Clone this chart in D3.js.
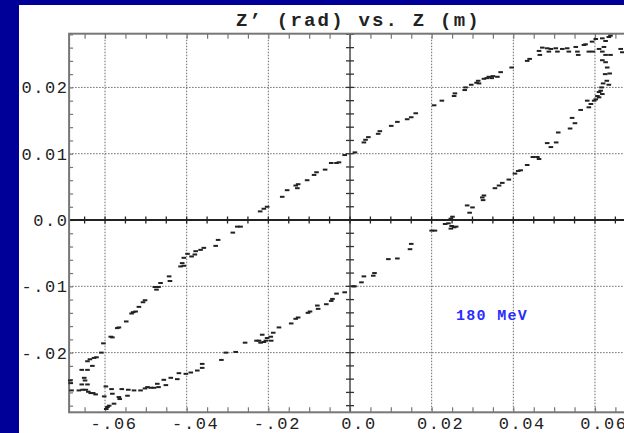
<!DOCTYPE html>
<html>
<head>
<meta charset="utf-8">
<script src="https://cdn.jsdelivr.net/npm/d3@7"></script>
<style>
  html, body { margin: 0; padding: 0; background: #000099; }
  svg { display: block; }
</style>
</head>
<body>
<svg id="chart" width="624" height="433"></svg>
<script>
// ---------- data ----------
const titleText = "Z’ (rad) vs. Z (m)";
const annotation = "180 MeV";
const xTicks = [-0.06, -0.04, -0.02, 0, 0.02, 0.04, 0.06];
const xTickLabels = ["-.06", "-.04", "-.02", "0.0", "0.02", "0.04", "0.06"];
const yTicks = [-0.02, -0.01, 0, 0.01, 0.02];
const yTickLabels = ["-.02", "-.01", "0.0", "0.01", "0.02"];

// upper branch: Z (m), Z' (rad)
const upperBranch = [
  [-0.0220,0.0013],[-0.0211,0.0017],[-0.0203,0.0020],[-0.0166,0.0035],[-0.0154,0.0045],
  [-0.0133,0.0052],[-0.0129,0.0048],[-0.0127,0.0054],[-0.0105,0.0060],[-0.0088,0.0068],
  [-0.0082,0.0072],[-0.0061,0.0076],[-0.0046,0.0086],[-0.0033,0.0086],[-0.0027,0.0087],
  [-0.0013,0.0098],[0.0012,0.0102],[0.0034,0.0117],[0.0038,0.0121],[0.0045,0.0125],
  [0.0069,0.0130],[0.0073,0.0134],[0.0101,0.0142],[0.0116,0.0148],[0.0140,0.0152],
  [0.0150,0.0155],[0.0161,0.0161],[0.0206,0.0173],[0.0225,0.0180],[0.0255,0.0187],
  [0.0257,0.0191],[0.0281,0.0196],[0.0283,0.0200],[0.0297,0.0204],[0.0310,0.0207],
  [0.0314,0.0210],[0.0316,0.0206],[0.0328,0.0213],[0.0335,0.0214],[0.0340,0.0216],
  [0.0347,0.0214],[0.0350,0.0217],[0.0361,0.0216],[0.0369,0.0223],[0.0396,0.0230],
  [0.0434,0.0240],[0.0440,0.0243],
  [-0.0276,-0.0010],[-0.0268,-0.0010],[-0.0287,-0.0019],[-0.0323,-0.0030],[-0.0329,-0.0039],
  [-0.0358,-0.0042],[-0.0366,-0.0045],[-0.0378,-0.0047],[-0.0380,-0.0052],[-0.0388,-0.0055],
  [-0.0398,-0.0051],[-0.0407,-0.0057],[-0.0411,-0.0065],[-0.0415,-0.0070],[-0.0407,-0.0069],
  [-0.0443,-0.0085],[-0.0441,-0.0092],[-0.0464,-0.0095],[-0.0469,-0.0101],[-0.0478,-0.0101],
  [-0.0474,-0.0105],[-0.0502,-0.0121],[-0.0507,-0.0124],[-0.0517,-0.0131],[-0.0525,-0.0138],
  [-0.0531,-0.0139],[-0.0535,-0.0141],[-0.0548,-0.0153],[-0.0566,-0.0162],[-0.0570,-0.0163],
  [-0.0582,-0.0177],[-0.0586,-0.0176],[-0.0604,-0.0186],[-0.0609,-0.0200],[-0.0621,-0.0207],
  [-0.0627,-0.0208],[-0.0637,-0.0210],[-0.0643,-0.0213],[-0.0631,-0.0220],[-0.0643,-0.0226],
  [-0.0657,-0.0226],[-0.0651,-0.0238],[-0.0649,-0.0242],[-0.0657,-0.0248],[-0.0643,-0.0248]
];

// top turning cluster
const topCluster = [
  [0.0463,0.0255],[0.0465,0.0249],[0.0471,0.0260],[0.0483,0.0259],[0.0487,0.0254],
  [0.0492,0.0258],[0.0504,0.0259],[0.0508,0.0254],[0.0520,0.0258],[0.0532,0.0259],
  [0.0536,0.0254],[0.0553,0.0261],[0.0557,0.0254],[0.0559,0.0249],[0.0573,0.0264],
  [0.0577,0.0265],[0.0585,0.0254],[0.0593,0.0269],[0.0595,0.0254],[0.0602,0.0273],
  [0.0610,0.0258],[0.0618,0.0274],[0.0618,0.0254],[0.0622,0.0261],[0.0626,0.0270],
  [0.0626,0.0249],[0.0634,0.0276],[0.0638,0.0249],[0.0638,0.0278],[0.0663,0.0258],
  [0.0667,0.0253]
];

// bottom-left tail cluster
const tailCluster = [
  [-0.0685,-0.0242],[-0.0684,-0.0246],[-0.0682,-0.0257],[-0.0664,-0.0257],[-0.0655,-0.0256],
  [-0.0647,-0.0256],[-0.0641,-0.0259],[-0.0635,-0.0261],[-0.0629,-0.0261],[-0.0623,-0.0263],
  [-0.0602,-0.0266],[-0.0594,-0.0282],[-0.0590,-0.0280],[-0.0597,-0.0285],[-0.0578,-0.0277]
];

// lower branch: Z (m), Z' (rad)
const lowerBranch = [
  [-0.0598,-0.0251],[-0.0584,-0.0255],[-0.0582,-0.0262],[-0.0566,-0.0267],[-0.0564,-0.0270],
  [-0.0559,-0.0255],[-0.0545,-0.0265],[-0.0543,-0.0256],[-0.0529,-0.0257],[-0.0513,-0.0257],
  [-0.0502,-0.0254],[-0.0496,-0.0252],[-0.0488,-0.0253],[-0.0480,-0.0253],[-0.0472,-0.0247],
  [-0.0469,-0.0252],[-0.0456,-0.0241],[-0.0451,-0.0249],[-0.0439,-0.0238],[-0.0423,-0.0240],
  [-0.0419,-0.0231],[-0.0402,-0.0232],[-0.0390,-0.0230],[-0.0374,-0.0227],[-0.0362,-0.0223],
  [-0.0362,-0.0217],[-0.0315,-0.0211],[-0.0304,-0.0200],[-0.0280,-0.0199],[-0.0257,-0.0185],
  [-0.0229,-0.0182],[-0.0223,-0.0182],[-0.0219,-0.0185],[-0.0215,-0.0173],[-0.0211,-0.0184],
  [-0.0206,-0.0182],[-0.0203,-0.0178],[-0.0194,-0.0176],[-0.0193,-0.0182],[-0.0188,-0.0170],
  [-0.0174,-0.0162],[-0.0144,-0.0156],[-0.0133,-0.0149],[-0.0127,-0.0147],[-0.0103,-0.0140],
  [-0.0098,-0.0138],[-0.0078,-0.0134],[-0.0080,-0.0129],[-0.0058,-0.0127],[-0.0046,-0.0122],
  [-0.0043,-0.0119],[-0.0033,-0.0111],[-0.0013,-0.0109],[0.0008,-0.0100],[0.0011,-0.0100],
  [0.0028,-0.0094],[0.0034,-0.0085],[0.0057,-0.0084],[0.0060,-0.0080],[0.0094,-0.0059],
  [0.0116,-0.0058],[0.0147,-0.0044],[0.0150,-0.0036],[0.0200,-0.0016],[0.0208,-0.0016],
  [0.0233,-0.0006],[0.0241,-0.0005],[0.0247,-0.0013],[0.0249,-0.0009],[0.0255,-0.0011],
  [0.0260,-0.0010],[0.0247,0.0002],[0.0251,0.0005],[0.0293,0.0011],[0.0287,0.0022],
  [0.0300,0.0019],[0.0326,0.0030],[0.0324,0.0034],[0.0328,0.0037],[0.0355,0.0048],
  [0.0365,0.0052],[0.0373,0.0056],[0.0389,0.0061],[0.0404,0.0070],[0.0412,0.0074],
  [0.0418,0.0075],[0.0434,0.0083],[0.0448,0.0095],[0.0463,0.0092],[0.0459,0.0095],
  [0.0492,0.0110],[0.0483,0.0116],[0.0505,0.0117],[0.0510,0.0132],[0.0539,0.0138],
  [0.0551,0.0146],[0.0544,0.0154],[0.0565,0.0166],[0.0585,0.0170],[0.0590,0.0175],
  [0.0581,0.0180],[0.0598,0.0180],[0.0602,0.0182],[0.0610,0.0185],[0.0606,0.0187],
  [0.0618,0.0190],[0.0610,0.0193],[0.0614,0.0195],[0.0616,0.0200],[0.0634,0.0204],
  [0.0620,0.0206],[0.0629,0.0210],[0.0636,0.0221],[0.0625,0.0220],[0.0630,0.0230],
  [0.0626,0.0238],[0.0618,0.0241]
];

// ---------- drawing ----------
const svg = d3.select("#chart");
const W = 624, H = 433;
const mono = "'Liberation Mono', 'DejaVu Sans Mono', monospace";

// white panel inside the navy slide frame
svg.append("rect").attr("x", 19).attr("y", 5).attr("width", W - 19).attr("height", H - 5).attr("fill", "#ffffff");

const xDom = [-0.0688, 0.0688], yDom = [-0.029, 0.0281];
const x = d3.scaleLinear().domain(xDom).range([69.1, 630.9]);
const y = d3.scaleLinear().domain(yDom).range([412.3, 33.7]);

const xMinor = d3.range(-0.065, 0.0689, 0.005);
const yMinor = d3.range(-0.028, 0.0282, 0.002);

// dotted grid lines
const grid = svg.append("g");
grid.selectAll("line.gx").data(xTicks.filter(d => d !== 0)).join("line")
  .attr("x1", d => x(d)).attr("x2", d => x(d)).attr("y1", y(yDom[1])).attr("y2", y(yDom[0]))
  .attr("stroke", "#6a6a6a").attr("stroke-width", 1).attr("stroke-dasharray", "1.5,1.5");
grid.selectAll("line.gy").data(yTicks.filter(d => d !== 0)).join("line")
  .attr("y1", d => y(d)).attr("y2", d => y(d)).attr("x1", x(xDom[0])).attr("x2", x(xDom[1]))
  .attr("stroke", "#6a6a6a").attr("stroke-width", 1).attr("stroke-dasharray", "1.5,1.5");

// frame minor ticks (inward) using d3 axes
function clean(g) { g.select(".domain").remove(); g.selectAll("text").remove(); g.selectAll("line").attr("stroke", "#777").attr("stroke-width", 1.2); }
svg.append("g").attr("transform", `translate(0,${y(yDom[0])})`)
  .call(d3.axisBottom(x).tickValues(xMinor).tickSize(-5).tickFormat("")).call(clean);
svg.append("g").attr("transform", `translate(0,${y(yDom[1])})`)
  .call(d3.axisTop(x).tickValues(xMinor).tickSize(-5).tickFormat("")).call(clean);
svg.append("g").attr("transform", `translate(${x(xDom[0])},0)`)
  .call(d3.axisLeft(y).tickValues(yMinor).tickSize(-4).tickFormat("")).call(clean);

// zero axes with crossing ticks
svg.append("line").attr("x1", x(0)).attr("x2", x(0)).attr("y1", y(yDom[1])).attr("y2", y(yDom[0]))
  .attr("stroke", "#555").attr("stroke-width", 1.6);
svg.append("g").selectAll("line").data(yMinor).join("line")
  .attr("x1", x(0) - 4).attr("x2", x(0) + 4).attr("y1", d => y(d)).attr("y2", d => y(d))
  .attr("stroke", "#333").attr("stroke-width", 1.3);
svg.append("line").attr("x1", x(xDom[0])).attr("x2", x(xDom[1])).attr("y1", y(0)).attr("y2", y(0))
  .attr("stroke", "#222").attr("stroke-width", 2.2);
svg.append("g").selectAll("line").data(xMinor).join("line")
  .attr("x1", d => x(d)).attr("x2", d => x(d)).attr("y1", y(0) - 3.5).attr("y2", y(0) + 3.5)
  .attr("stroke", "#222").attr("stroke-width", 1.3);

// frame
svg.append("rect").attr("x", x(xDom[0])).attr("y", y(yDom[1]))
  .attr("width", x(xDom[1]) - x(xDom[0])).attr("height", y(yDom[0]) - y(yDom[1]))
  .attr("fill", "none").attr("stroke", "#777").attr("stroke-width", 2);

// tick labels via axes
const xl = svg.append("g").attr("transform", `translate(0,${y(yDom[0])})`)
  .call(d3.axisBottom(x).tickValues(xTicks).tickSize(0).tickPadding(0)
    .tickFormat((d, i) => xTickLabels[i]));
xl.select(".domain").remove();
xl.selectAll("text").attr("font-family", mono).attr("font-size", 17).attr("fill", "#222")
  .attr("letter-spacing", "1.6px").attr("dy", null).attr("y", 16.8).attr("dx", 8.5);

const yl = svg.append("g").attr("transform", `translate(${x(xDom[0])},0)`)
  .call(d3.axisLeft(y).tickValues(yTicks).tickSize(0).tickPadding(0)
    .tickFormat((d, i) => yTickLabels[i]));
yl.select(".domain").remove();
yl.selectAll("text").attr("font-family", mono).attr("font-size", 17).attr("fill", "#222")
  .attr("letter-spacing", "1.6px").attr("x", -0.5).attr("dy", "5.5");

// points (short horizontal dashes)
const pts = [...upperBranch, ...topCluster, ...tailCluster, ...lowerBranch];
svg.append("g").selectAll("rect").data(pts).join("rect")
  .attr("x", d => x(d[0]) - 2.3).attr("y", d => y(d[1]) - 1)
  .attr("width", 4.6).attr("height", 2).attr("fill", "#222");

// title
svg.append("text").attr("x", 236).attr("y", 26).text(titleText)
  .attr("font-family", mono).attr("font-weight", "bold").attr("font-size", 19)
  .attr("letter-spacing", "2.2px").attr("fill", "#222");

// annotation
svg.append("text").attr("x", 456).attr("y", 320).text(annotation)
  .attr("font-family", mono).attr("font-weight", "bold").attr("font-size", 15)
  .attr("letter-spacing", "1.3px").attr("fill", "#2b2bff");
</script>
</body>
</html>
